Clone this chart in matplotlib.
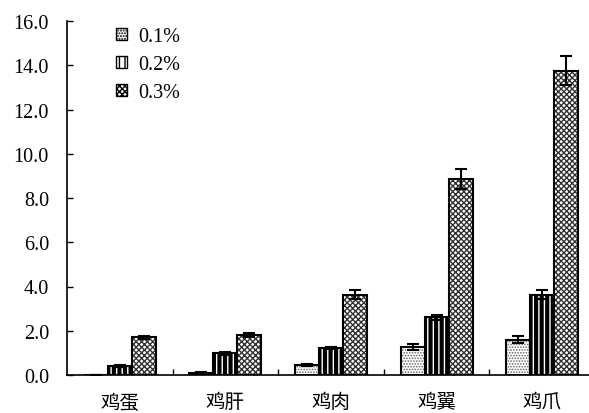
import matplotlib
matplotlib.use('Agg')
import matplotlib.pyplot as plt
import numpy as np

plt.rcParams['font.family'] = ['Liberation Serif', 'Noto Sans CJK SC']

categories = ['鸡蛋', '鸡肝', '鸡肉', '鸡翼', '鸡爪']
series_names = ['0.1%', '0.2%', '0.3%']
vals_01 = [0.02, 0.10, 0.45, 1.27, 1.60]
vals_02 = [0.40, 0.98, 1.22, 2.60, 3.62]
vals_03 = [1.70, 1.80, 3.62, 8.85, 13.75]
err_01 = [0.0, 0.03, 0.05, 0.12, 0.16]
err_02 = [0.04, 0.06, 0.06, 0.12, 0.20]
err_03 = [0.08, 0.10, 0.20, 0.45, 0.65]

# face, hatch colour, hatch, hatch linewidth
styles = [('white', '#666666', '......', 0.8),
          ('white', 'black', '|||', 3.0),
          ('white', '#333333', 'xxxxxx', 1.0)]

fig = plt.figure(figsize=(5.89, 4.14), dpi=100)
ax = fig.add_axes([67/589, 1-376/414, 528/589, 354/414])

x = np.arange(len(categories))
w = 0.227
handles = []
for i, (vals, errs) in enumerate([(vals_01, err_01), (vals_02, err_02), (vals_03, err_03)]):
    fc, hc, hatch, hlw = styles[i]
    pos = x + (i - 1) * w
    with plt.rc_context({'hatch.linewidth': hlw}):
        ax.bar(pos, vals, w, color=fc, edgecolor=hc, hatch=hatch, linewidth=0, zorder=2)
        handles.append(plt.Rectangle((0, 0), 1, 1, facecolor=fc, edgecolor=hc,
                                     hatch=hatch, linewidth=0))
    ax.bar(pos, vals, w, fill=False, edgecolor='black', linewidth=1.5, zorder=3)
    ax.errorbar(pos, vals, yerr=errs, fmt='none', ecolor='black', elinewidth=1.5,
                capsize=4, capthick=1.5, zorder=4)

with plt.rc_context({'hatch.linewidth': 1.0}):
    leg = ax.legend(handles, series_names, loc='upper left', bbox_to_anchor=(0.058, 1.035),
                    frameon=False, fontsize=14.5, handlelength=0.55, handleheight=0.55,
                    handletextpad=0.55, labelspacing=0.45)
for p in leg.get_patches():
    p.set_edgecolor('black')
    p.set_linewidth(1.0)

ax.set_xlim(-0.5, 4.5)
ax.set_ylim(0, 16)
ax.set_yticks(np.arange(0, 16.1, 2))
ax.set_yticklabels([f'{v:.1f}' for v in np.arange(0, 16.1, 2)], fontsize=14.5)
ax.tick_params(axis='y', direction='in', length=4, width=1, pad=13)
ax.set_xticks(x)
ax.set_xticklabels(categories, fontsize=14)
ax.tick_params(axis='x', length=0, pad=13)
ax.set_xticks(np.arange(0.5, 4.5, 1), minor=True)
ax.tick_params(axis='x', which='minor', direction='in', length=4, width=1)
for s in ['top', 'right']:
    ax.spines[s].set_visible(False)
for s in ['left', 'bottom']:
    ax.spines[s].set_linewidth(1.2)

fig.savefig('out.png', dpi=100)
